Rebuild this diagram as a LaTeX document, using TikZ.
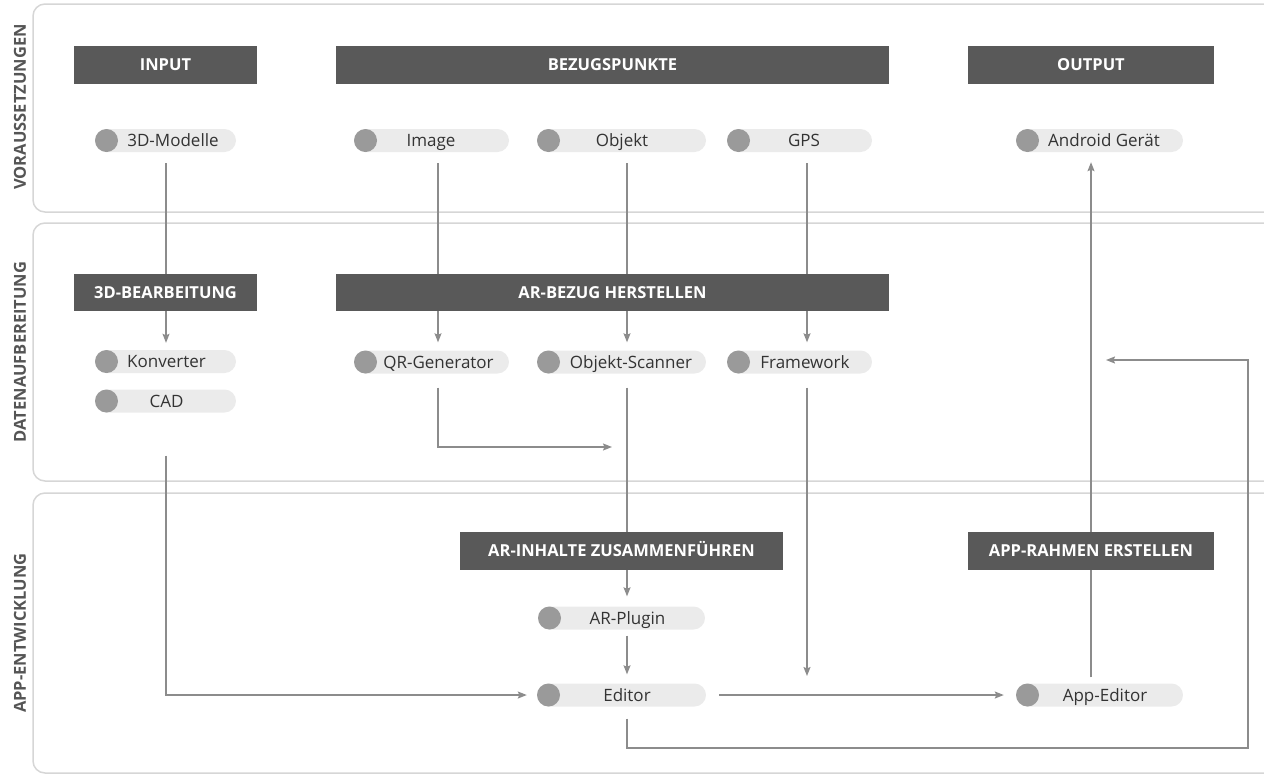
\documentclass[tikz,border=0pt]{standalone}
\usepackage{fontspec}
\setmainfont{Open Sans}
\usetikzlibrary{arrows.meta,calc}

\definecolor{hdrfill}{HTML}{595959}
\definecolor{pillfill}{HTML}{EBEBEB}
\definecolor{dotfill}{HTML}{9A9A9A}
\definecolor{connclr}{HTML}{8C8C8C}
\definecolor{bandclr}{HTML}{D6D6D6}
\definecolor{lblclr}{HTML}{555555}
\definecolor{txtclr}{HTML}{333333}

\tikzset{
  band/.style={draw=bandclr, line width=1.5pt, rounded corners=12pt},
  bandlabel/.style={rotate=90, text=lblclr, inner sep=0pt,
    font=\fontsize{16.5}{19}\selectfont\bfseries, text height=11.8pt, text depth=0pt},
  hdr/.style={fill=hdrfill, text=white, inner sep=0pt,
    font=\fontsize{16.5}{19}\selectfont\bfseries, text height=11.8pt, text depth=0pt},
  pillbody/.style={rectangle, rounded corners=11.5pt, fill=pillfill,
    minimum height=23pt, inner sep=0pt},
  dot/.style={circle, fill=dotfill, minimum size=23pt, inner sep=0pt},
  pilltext/.style={text=txtclr, inner sep=0pt,
    font=\fontsize{17}{20}\selectfont, text height=12.1pt, text depth=0pt},
  conn/.style={draw=connclr, line width=1.3pt,
    -{Stealth[length=9pt,width=7pt,inset=1.5pt]}}
}

% #1 name, #2 centre x, #3 y, #4 width, #5 label x, #6 label
\newcommand\pillbox[6]{%
  \node[pillbody, minimum width=#4pt] (#1) at (#2,#3) {};
  \node[dot, anchor=west] (#1-dot) at (#1.west) {};
  \node[pilltext] (#1-t) at (#5,#3) {#6};
}

\begin{document}
\begin{tikzpicture}[x=1pt, y=-1pt]
\useasboundingbox (0,0) rectangle (1264,780);
\clip (0,0) rectangle (1264,780);

% swim lanes, open to the right
\draw[band] (33,4) rectangle (1300,212);
\draw[band] (33,223) rectangle (1300,481);
\draw[band] (33,493) rectangle (1300,773);
\node[bandlabel] (lVor)  at (20,107) {VORAUSSETZUNGEN};
\node[bandlabel] (lDat)  at (20,352) {DATENAUFBEREITUNG};
\node[bandlabel] (lApp)  at (20,633) {APP-ENTWICKLUNG};

% column guides and free connector ends
\coordinate (colA) at (166,0);
\coordinate (colB) at (438,0);
\coordinate (colC) at (627,0);
\coordinate (colD) at (807,0);
\coordinate (colE) at (1091,0);
\coordinate (qrEnd) at (612,447);
\coordinate (fwEnd) at (807,676);
\coordinate (loopBot) at (1248,748);
\coordinate (loopEnd) at (1106,360);

% pills
\pillbox{mod3d}{165.5}{140.5}{141}{173}{3D-Modelle}
\pillbox{image}{431.5}{140.5}{155}{431}{Image}
\pillbox{objekt}{621.5}{140.5}{169}{622}{Objekt}
\pillbox{gps}{799.5}{140.5}{145}{804}{GPS}
\pillbox{android}{1099.5}{140.5}{167}{1104}{Android Gerät}

\pillbox{konv}{165.5}{361.5}{141}{166.5}{Konverter}
\pillbox{cad}{165.5}{401}{141}{166.5}{CAD}
\pillbox{qrgen}{431.5}{362}{155}{438.5}{QR-Generator}
\pillbox{oscan}{621.5}{362}{169}{631}{Objekt-Scanner}
\pillbox{frame}{799.5}{362}{145}{805}{Framework}

\pillbox{arplug}{621.5}{618}{167}{627.5}{AR-Plugin}
\pillbox{editor}{621.5}{695}{169}{627}{Editor}
\pillbox{appedit}{1099.5}{695}{167}{1105}{App-Editor}

% connectors
\draw[conn] ($(mod3d.south -| colA)+(0,11)$) -- ($(konv.north -| colA)+(0,-7)$);
\draw[conn] ($(image.south -| colB)+(0,11)$) -- ($(qrgen.north -| colB)+(0,-8)$);
\draw[conn] ($(objekt.south -| colC)+(0,11)$) -- ($(oscan.north -| colC)+(0,-8)$);
\draw[conn] ($(gps.south -| colD)+(0,11)$) -- ($(frame.north -| colD)+(0,-8)$);
\draw[conn] ($(qrgen.south -| colB)+(0,14)$) |- (qrEnd);
\draw[conn] ($(oscan.south -| colC)+(0,14)$) -- ($(arplug.north -| colC)+(0,-10)$);
\draw[conn] ($(arplug.south -| colC)+(0,6)$) -- ($(editor.north -| colC)+(0,-9)$);
\draw[conn] ($(cad.south -| colA)+(0,43)$) |- ($(editor-dot.west)+(-10,0)$);
\draw[conn] ($(frame.south -| colD)+(0,14)$) -- (fwEnd);
\draw[conn] ($(editor.east)+(13,0)$) -- ($(appedit-dot.west)+(-12,0)$);
\draw[conn] ($(appedit.north -| colE)+(0,-6)$) -- ($(android.south -| colE)+(0,10)$);
\draw[conn] ($(editor.south -| colC)+(0,12)$) |- (loopBot) |- (loopEnd);

% stage headers
\node[hdr, minimum width=183pt, minimum height=38pt] (hInput)   at (165.5,65) {INPUT};
\node[hdr, minimum width=553pt, minimum height=38pt] (hBezug)   at (612.5,65) {BEZUGSPUNKTE};
\node[hdr, minimum width=246pt, minimum height=38pt] (hOutput)  at (1091,65) {OUTPUT};
\node[hdr, minimum width=183pt, minimum height=37pt] (hBearb)   at (165.5,292.5) {3D-BEARBEITUNG};
\node[hdr, minimum width=553pt, minimum height=37pt] (hArBezug) at (612.5,292.5) {AR-BEZUG HERSTELLEN};
\node[hdr, minimum width=323pt, minimum height=38pt] (hInhalte) at (621.5,551) {AR-INHALTE ZUSAMMENFÜHREN};
\node[hdr, minimum width=246pt, minimum height=38pt] (hRahmen)  at (1091,551) {APP-RAHMEN ERSTELLEN};
\end{tikzpicture}
\end{document}
